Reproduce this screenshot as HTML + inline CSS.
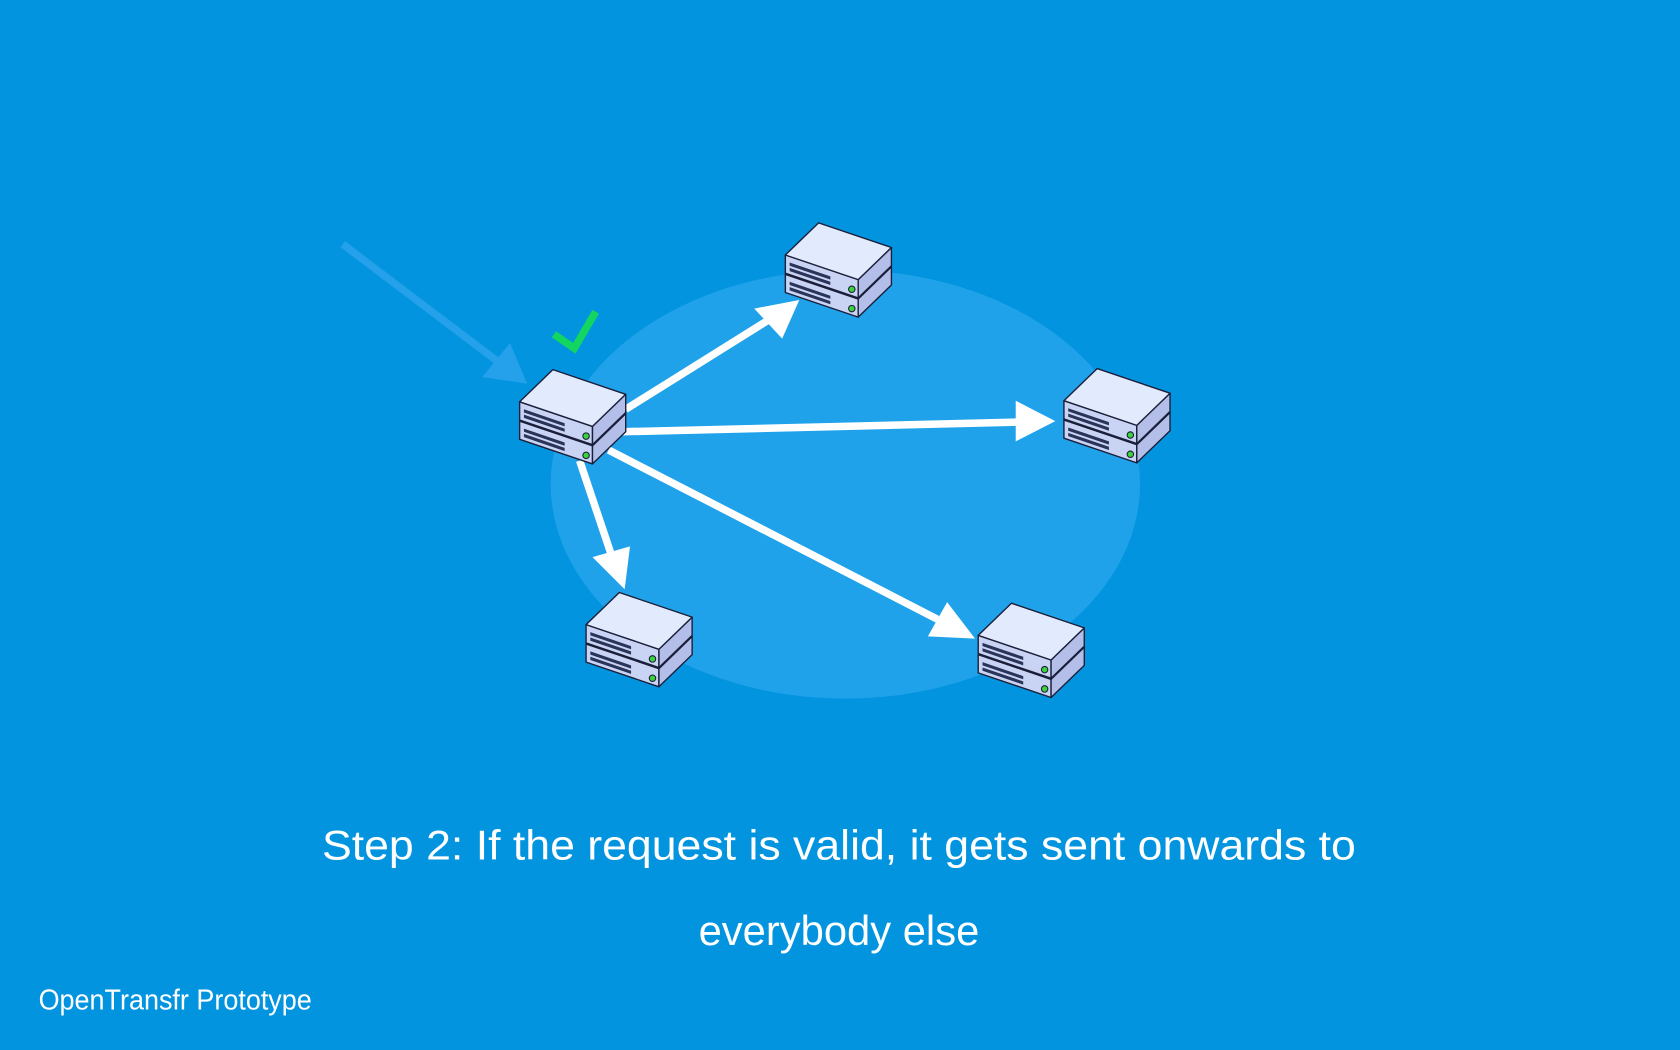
<!DOCTYPE html>
<html><head><meta charset="utf-8"><style>
html,body{margin:0;padding:0;background:#0394e0;}
svg{display:block}
</style></head><body>
<svg width="1680" height="1050" viewBox="0 0 1568 980" xmlns="http://www.w3.org/2000/svg">
<defs>
<g id="unit" stroke="#1b1f3a" stroke-width="1.3" stroke-linejoin="round">
  <polygon points="0,30 68,53 68,70 0,47" fill="#c9d3f3"/>
  <polygon points="68,53 99,23 99,40 68,70" fill="#b3bfe9"/>
  <polygon points="0,30 31,0 99,23 68,53" fill="#e2eafd"/>
  <g stroke="none" fill="#2a3358">
    <polygon points="4,37 42,50 42,53 4,40"/>
    <polygon points="4,42 42,55 42,58 4,45"/>
  </g>
  <circle cx="62" cy="62" r="3" fill="#3ad43a" stroke-width="1"/>
</g>
<g id="srv"><use href="#unit" y="18"/><use href="#unit"/></g>
</defs>
<rect width="1568" height="980" fill="#0394e0"/>
<ellipse cx="789" cy="452" rx="275" ry="200" fill="#1fa2ea"/>
<line x1="320" y1="228" x2="468" y2="340" stroke="#25a0ea" stroke-width="7"/>
<polygon points="492,358 450,352 476,320" fill="#25a0ea"/>
<g stroke="#fff" stroke-width="7">
<line x1="584" y1="382" x2="720" y2="297"/>
<line x1="580" y1="403" x2="950" y2="394"/>
<line x1="568" y1="420" x2="875" y2="578"/>
<line x1="541" y1="430" x2="572" y2="522"/>
</g>
<g fill="#fff">
<polygon points="746,280 704,288 730,316"/>
<polygon points="985,393 948,374 948,412"/>
<polygon points="910,596 884,562 866,594"/>
<polygon points="583,550 553,520 588,510"/>
</g>
<use href="#srv" x="485" y="345"/>
<use href="#srv" x="733" y="208"/>
<use href="#srv" x="993" y="344"/>
<use href="#srv" x="547" y="553"/>
<use href="#srv" x="913" y="563"/>
<polyline points="517,312 536,325 556,291" fill="none" stroke="#13d660" stroke-width="7"/>
<g fill="#fff" font-family="Liberation Sans, sans-serif" text-anchor="middle">
<text x="783" y="802" font-size="39" textLength="965" lengthAdjust="spacingAndGlyphs">Step 2: If the request is valid, it gets sent onwards to</text>
<text x="783" y="882" font-size="39" textLength="262" lengthAdjust="spacingAndGlyphs">everybody else</text>
<text x="36" y="942" font-size="27" text-anchor="start" textLength="255" lengthAdjust="spacingAndGlyphs">OpenTransfr Prototype</text>
</g>
</svg>
</body></html>
